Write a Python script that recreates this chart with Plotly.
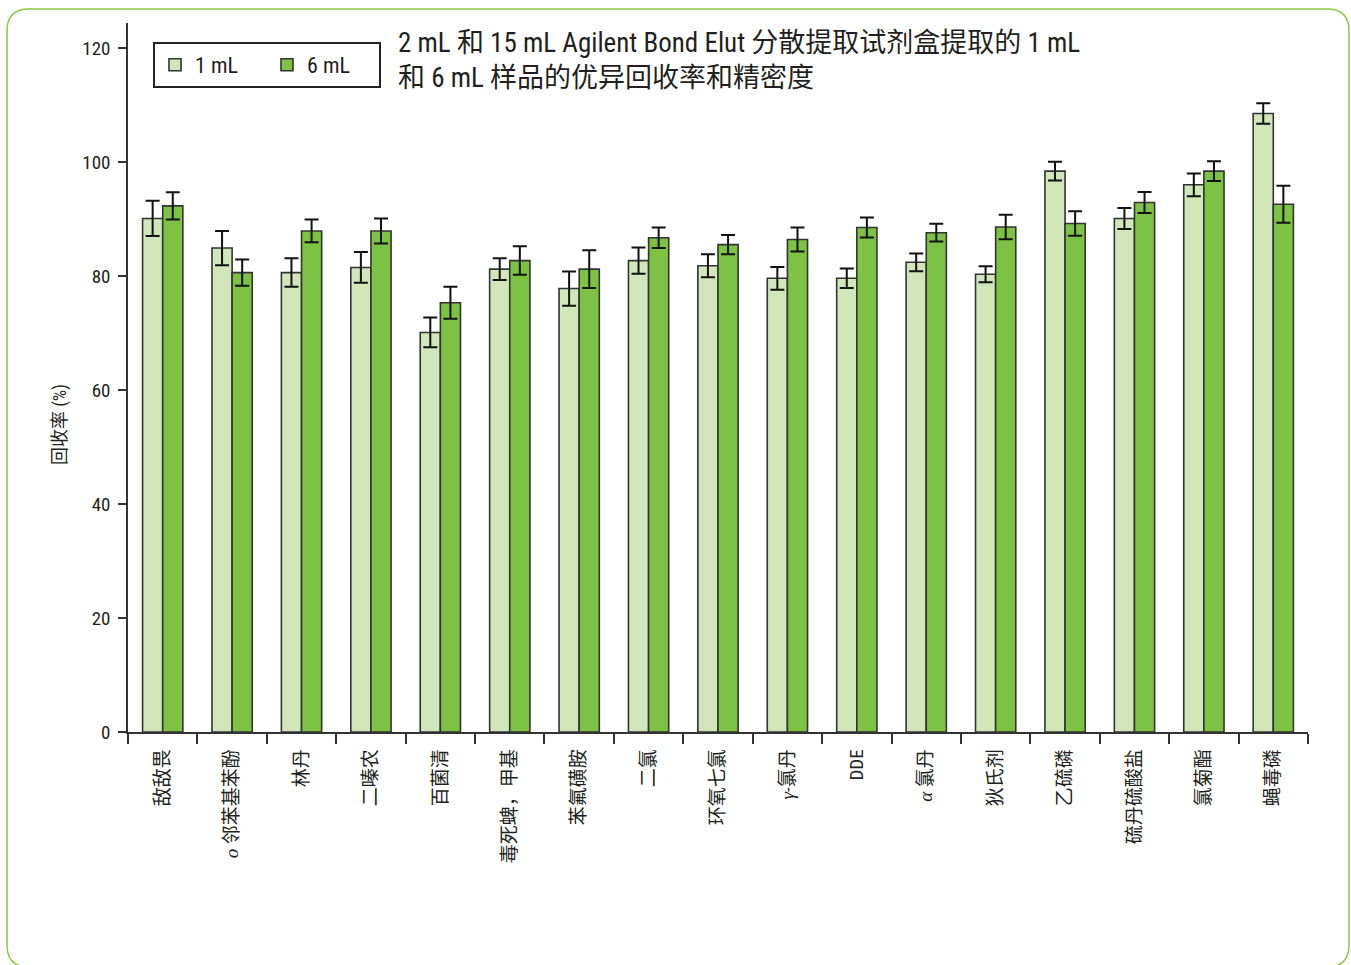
import plotly.graph_objects as go

SERIF_I = '<span style="font-family:\'Liberation Serif\', \'DejaVu Serif\', serif"><i>{}</i></span>'

categories = [
    "敌敌畏",
    SERIF_I.format("o") + " 邻苯基苯酚",
    "林丹",
    "二嗪农",
    "百菌清",
    "毒死蜱，甲基",
    "苯氟磺胺",
    "二氯",
    "环氧七氯",
    SERIF_I.format("γ") + "-氯丹",
    "DDE",
    SERIF_I.format("α") + " 氯丹",
    "狄氏剂",
    "乙硫磷",
    "硫丹硫酸盐",
    "氯菊酯",
    "蝇毒磷",
]

recovery_1ml = [90.1, 84.9, 80.6, 81.5, 70.1, 81.2, 77.8, 82.7, 81.8, 79.6, 79.6, 82.4, 80.3, 98.4, 90.1, 96.0, 108.5]
error_1ml = [3.1, 3.0, 2.5, 2.7, 2.6, 1.9, 3.0, 2.3, 2.0, 2.0, 1.7, 1.55, 1.4, 1.65, 1.85, 2.0, 1.8]
recovery_6ml = [92.3, 80.6, 87.9, 87.9, 75.3, 82.7, 81.2, 86.7, 85.5, 86.4, 88.5, 87.6, 88.6, 89.2, 92.9, 98.4, 92.6]
error_6ml = [2.4, 2.3, 2.0, 2.2, 2.8, 2.5, 3.3, 1.8, 1.7, 2.1, 1.75, 1.55, 2.15, 2.15, 1.85, 1.75, 3.25]

yticks = [0, 20, 40, 60, 80, 100, 120]

title_text = "2 mL 和 15 mL Agilent Bond Elut 分散提取试剂盒提取的 1 mL<br>和 6 mL 样品的优异回收率和精密度"
ytitle = "回收率 (%)"

FONT = "'Roboto Condensed', 'Liberation Sans Narrow', Roboto, 'Noto Sans CJK SC', sans-serif"
TXT = "#231f20"

W, H = 1351, 965
L, R, T, B = 128, 1308, 23, 732


def px2paper(x, y):
    return (x - L) / (R - L), (B - y) / (B - T)


fig = go.Figure()
fig.add_trace(go.Bar(
    name="1 mL", x=categories, y=recovery_1ml,
    marker=dict(color="#d1e7b9", line=dict(color="#333333", width=1.6)),
    error_y=dict(type="data", array=error_1ml, visible=True, color="#111111", thickness=2, width=7),
))
fig.add_trace(go.Bar(
    name="6 mL", x=categories, y=recovery_6ml,
    marker=dict(color="#7dc242", line=dict(color="#333333", width=1.6)),
    error_y=dict(type="data", array=error_6ml, visible=True, color="#111111", thickness=2, width=7),
))

# rounded green frame
l, r, t, b, rad = 7, 1349, 9, 967, 22
def P(x, y):
    xp, yp = px2paper(x, y)
    return f"{xp:.5f},{yp:.5f}"
path = (f"M{P(l+rad,t)} L{P(r-rad,t)} Q{P(r,t)} {P(r,t+rad)} L{P(r,b-rad)} Q{P(r,b)} {P(r-rad,b)} "
        f"L{P(l+rad,b)} Q{P(l,b)} {P(l,b-rad)} L{P(l,t+rad)} Q{P(l,t)} {P(l+rad,t)} Z")
fig.add_shape(type="path", path=path, xref="paper", yref="paper",
              line=dict(color="#8dc63f", width=1.5), layer="below")

tx, ty = px2paper(396, 25)
fig.add_annotation(text=title_text, x=tx, y=ty, xref="paper", yref="paper",
                   xanchor="left", yanchor="top", align="left", showarrow=False,
                   font=dict(family=FONT, size=27, color=TXT))

yx, yy = px2paper(60, 425)
fig.add_annotation(text=ytitle, x=yx, y=yy, xref="paper", yref="paper",
                   xanchor="center", yanchor="middle", textangle=-90, showarrow=False,
                   font=dict(family=FONT, size=18, color=TXT))

lx, ly = px2paper(153, 42)
fig.update_layout(
    width=W, height=H,
    margin=dict(l=L, r=W - R, t=T, b=H - B, pad=0),
    paper_bgcolor="white", plot_bgcolor="white",
    font=dict(family=FONT, color=TXT, size=18),
    barmode="group", bargap=0.42, bargroupgap=0,
    showlegend=True,
    legend=dict(orientation="h", x=lx, y=ly, xanchor="left", yanchor="top",
                bordercolor="#222222", borderwidth=2, bgcolor="white",
                font=dict(family=FONT, size=22, color=TXT),
                itemwidth=30, entrywidth=67, entrywidthmode="pixels",
                traceorder="normal"),
    xaxis=dict(
        type="category", showline=True, linecolor="#333333", linewidth=1.5,
        ticks="outside", ticklen=10, tickcolor="#333333", tickwidth=1.5,
        tickson="boundaries", tickangle=-90, showgrid=False,
        tickfont=dict(family=FONT, size=19, color=TXT), ticklabelstandoff=8,
    ),
    yaxis=dict(
        range=[0, (B - T) / 5.7], tickvals=yticks, showline=True,
        linecolor="#333333", linewidth=1.5, ticks="outside", ticklen=8,
        tickcolor="#333333", tickwidth=1.5, showgrid=False, zeroline=False,
        tickfont=dict(family=FONT, size=19, color=TXT), ticklabelstandoff=4,
    ),
)

fig.write_html("out.html", config={"displayModeBar": False},
               post_script="document.body.style.margin='0';document.body.style.padding='0';")
